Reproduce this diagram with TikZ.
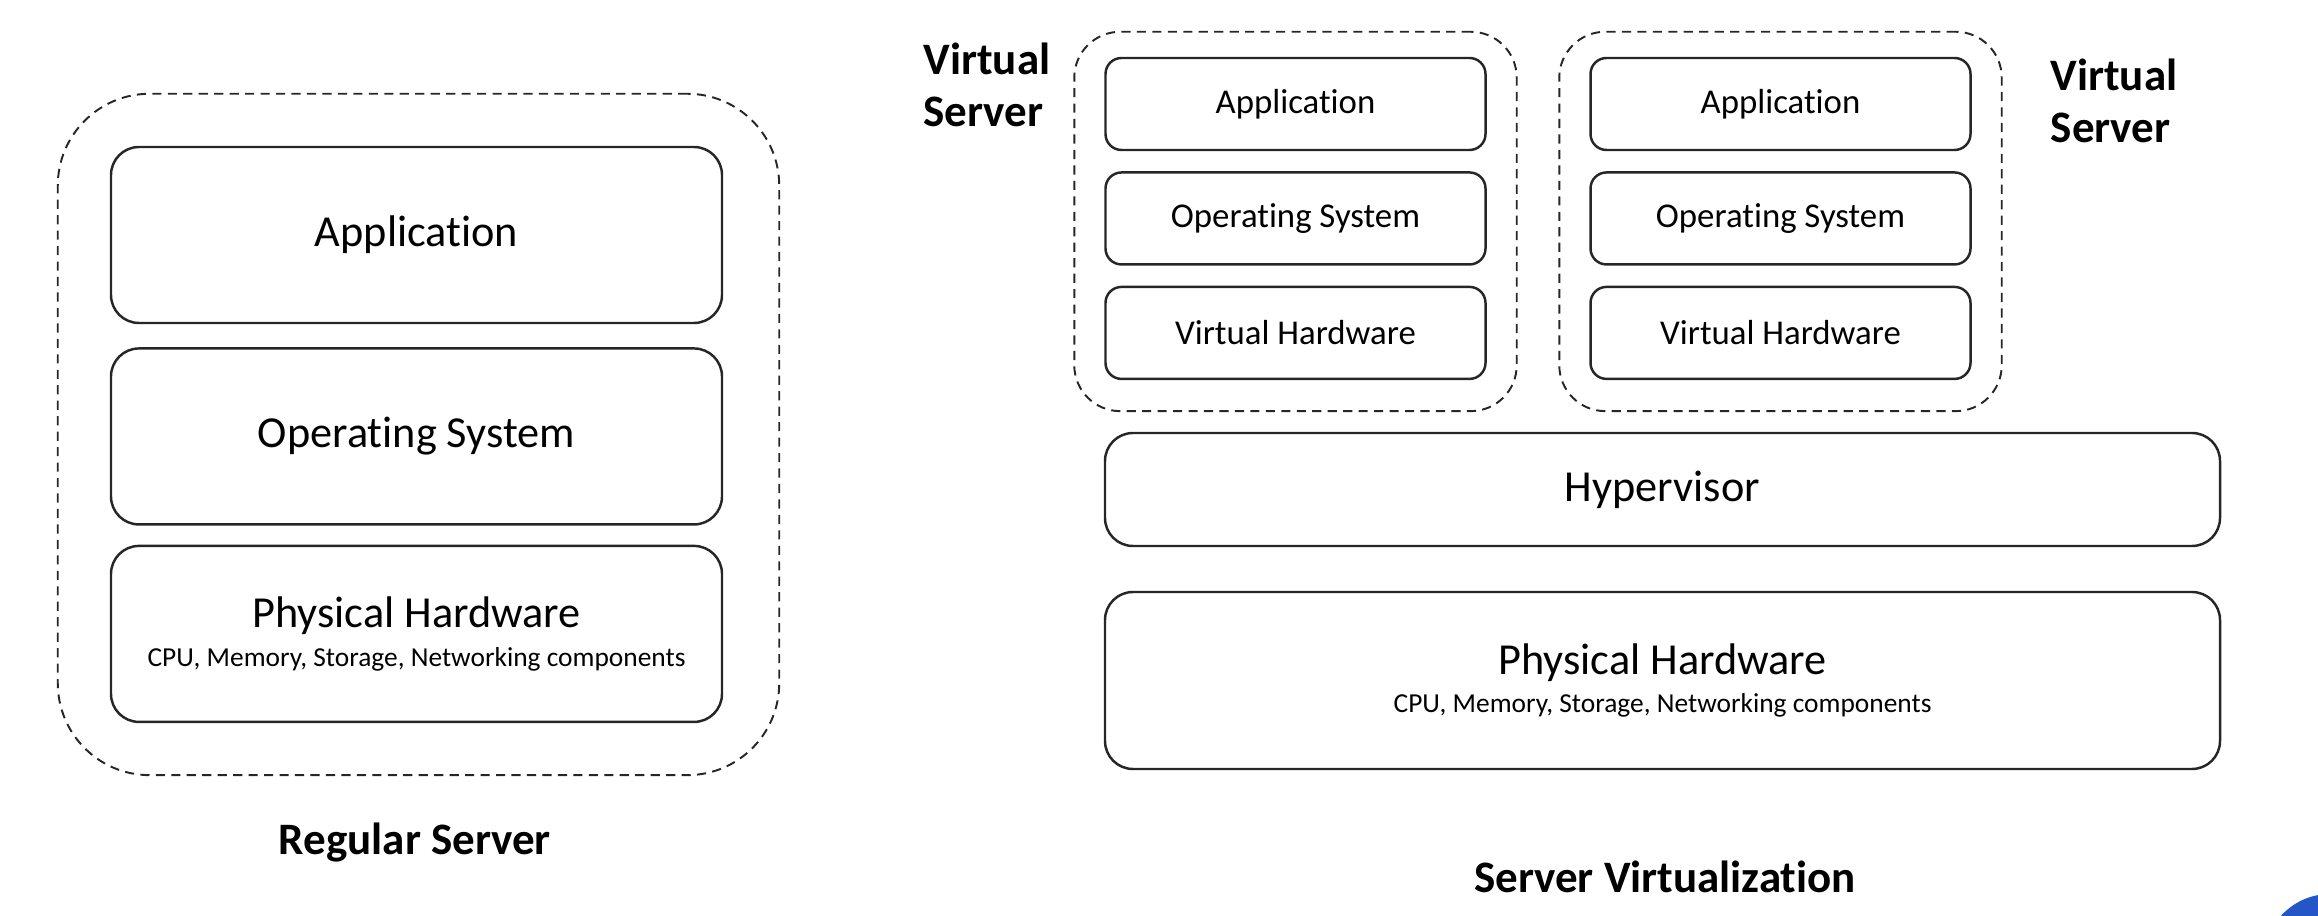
\documentclass[tikz,border=0pt]{standalone}
\usepackage{fontspec}
\setmainfont{Carlito}[Ligatures=NoCommon]
\usetikzlibrary{positioning,fit}
\definecolor{badgeblue}{HTML}{2456C8}

\begin{document}
\begin{tikzpicture}[
    layer/.style={draw=black!85, line width=0.7pt, rounded corners=0.28cm, minimum width=6.11cm, minimum height=1.76cm, inner sep=0pt, align=center, font=\fontsize{12.6}{13.8}\selectfont},
    vlayer/.style={draw=black!85, line width=0.7pt, rounded corners=0.16cm, minimum width=3.8cm, minimum height=0.92cm, inner sep=0pt, font=\fontsize{9.9}{12}\selectfont},
    widelayer/.style={layer, minimum width=11.15cm},
    boundary/.style={draw=black!85, line width=0.55pt, dash pattern=on 2.6pt off 1.8pt},
    caption/.style={inner sep=0pt, align=left, font=\fontsize{12.8}{15}\selectfont\bfseries}
]
    \useasboundingbox (0,0) rectangle (23.18,-9.16);
    % Draw regular server stack
    \node[layer] (app) at (4.165,-2.35) {Application};
    \node[layer, below=0.23cm of app] (os) {Operating System};
    \node[layer, below=0.19cm of os] (phys) {Physical Hardware\\[-2.8pt]{\fontsize{7.8}{13.8}\selectfont CPU, Memory, Storage, Networking components}};
    \node[boundary, rounded corners=0.92cm, fit=(app)(phys), inner xsep=0.54cm, inner ysep=0.52cm, xshift=0.02cm] (regular) {};
    \node[caption] (regularlabel) at (4.15,-8.43) {Regular Server};
    % Draw first virtual server
    \node[vlayer] (vapp1) at (12.955,-1.04) {Application};
    \node[vlayer, below=0.2cm of vapp1] (vos1) {Operating System};
    \node[vlayer, below=0.2cm of vos1] (vhw1) {Virtual Hardware};
    \node[boundary, rounded corners=0.46cm, fit=(vapp1)(vhw1), inner xsep=0.3cm, inner ysep=0.28cm, yshift=-0.03cm] (vserver1) {};
    % Draw second virtual server
    \node[vlayer] (vapp2) at (17.805,-1.04) {Application};
    \node[vlayer, below=0.2cm of vapp2] (vos2) {Operating System};
    \node[vlayer, below=0.2cm of vos2] (vhw2) {Virtual Hardware};
    \node[boundary, rounded corners=0.46cm, fit=(vapp2)(vhw2), inner xsep=0.3cm, inner ysep=0.28cm, yshift=-0.03cm] (vserver2) {};
    \node[caption, anchor=north west] (vlabel1) at (9.23,-0.42) {Virtual\\Server};
    \node[caption, anchor=north west] (vlabel2) at (20.50,-0.58) {Virtual\\Server};
    % Draw shared layers
    \node[widelayer, minimum height=1.13cm] (hyper) at (16.625,-4.895) {Hypervisor};
    \node[widelayer, minimum height=1.77cm] (phys2) at (16.625,-6.805) {Physical Hardware\\[-2.8pt]{\fontsize{7.8}{13.8}\selectfont CPU, Memory, Storage, Networking components}};
    \node[caption] (virtlabel) at (16.65,-8.77) {Server Virtualization};
    % Corner badge
    \begin{scope}
        \clip (0,0) rectangle (23.18,-9.16);
        \fill[badgeblue] (23.30,-9.60) circle (0.66cm);
    \end{scope}
\end{tikzpicture}
\end{document}
